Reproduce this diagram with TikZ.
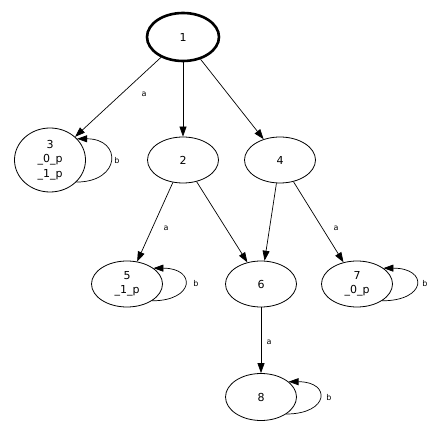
\documentclass[tikz,border=0pt]{standalone}
\usepackage{fontspec}
\setmainfont{DejaVu Sans}
\usetikzlibrary{arrows.meta,shapes.geometric}
\begin{document}
\begin{tikzpicture}[x=1pt,y=-1pt,
  st/.style={ellipse,draw,line width=0.8pt,minimum width=71pt,minimum height=46pt,inner sep=0pt,align=center,font=\fontsize{11}{14.5}\selectfont},
  ed/.style={line width=0.7pt,-{Triangle[length=10pt,width=7pt]}},
  lb/.style={font=\fontsize{8}{9}\selectfont,inner sep=0pt}]
\useasboundingbox (0,0) rectangle (444,435);
\node[st,line width=2.6pt,minimum width=72pt,minimum height=48pt] (n1) at (183,37) {1};
\node[st,minimum height=64pt] (n3) at (50,160) {3\\\_0\_p\\\_1\_p};
\node[st] (n2) at (183,160) {2};
\node[st] (n4) at (280,160) {4};
\node[st] (n5) at (127,284) {5\\\_1\_p};
\node[st] (n6) at (261,284) {6};
\node[st] (n7) at (357,284) {7\\\_0\_p};
\node[st,minimum height=47pt] (n8) at (261,397) {8};
\draw[ed] (n1) -- (n3);
\draw[ed] (n1) -- (n2);
\draw[ed] (n1) -- (n4);
\draw[ed] (n2) -- (n5);
\draw[ed] (n2) -- (n6);
\draw[ed] (n4) -- (n6);
\draw[ed] (n4) -- (n7);
\draw[ed] (n6) -- (n8);
\draw[ed] (n3.-40) .. controls +(45,0) and +(45,0) .. (n3.38);
\draw[ed] (n5.-34) .. controls +(43,0) and +(43,0) .. (n5.31);
\draw[ed] (n7.-34) .. controls +(45,0) and +(45,0) .. (n7.31);
\draw[ed] (n8.-34) .. controls +(43,0) and +(43,0) .. (n8.29);
\node[lb] (la1) at (144,94) {a};
\node[lb] (la2) at (166,228) {a};
\node[lb] (la3) at (336,228) {a};
\node[lb] (la4) at (269,342) {a};
\node[lb] (lb1) at (117,161) {b};
\node[lb] (lb2) at (196,284) {b};
\node[lb] (lb3) at (425,284) {b};
\node[lb] (lb4) at (329,398) {b};
\end{tikzpicture}
\end{document}
